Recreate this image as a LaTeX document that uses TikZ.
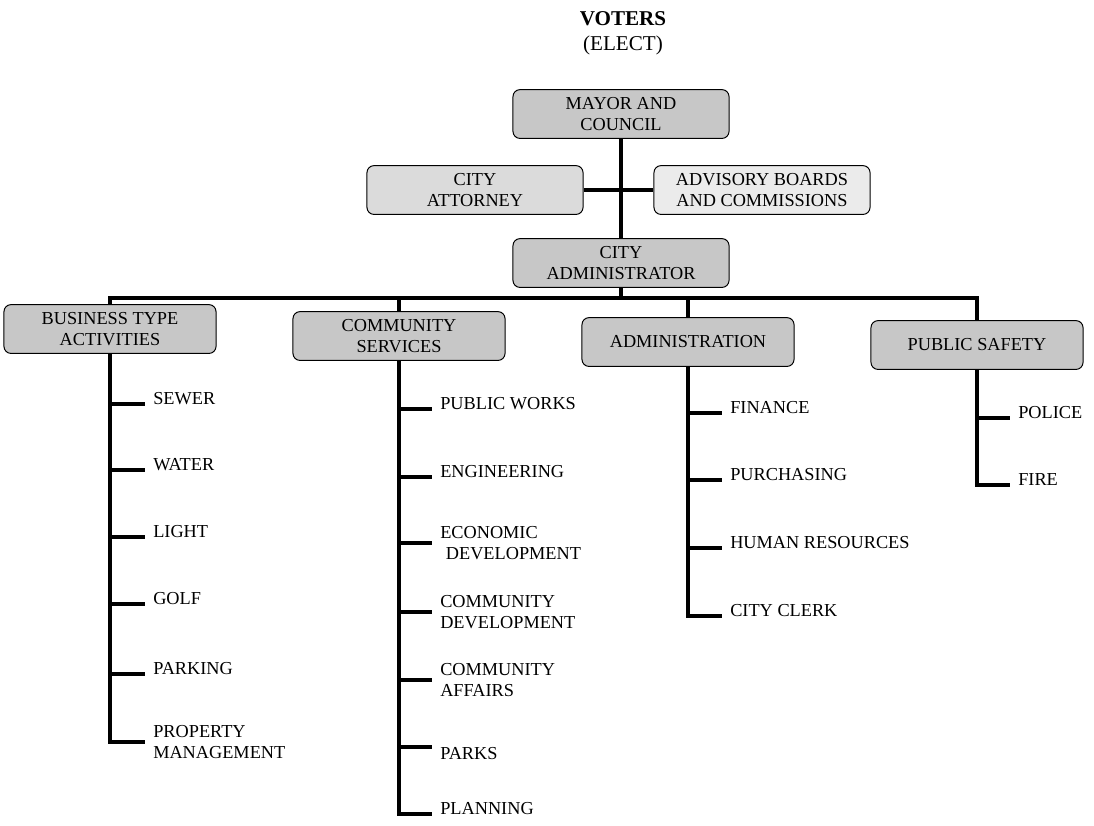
\documentclass[tikz,border=0pt]{standalone}
\usepackage{fontspec}
\setmainfont{Liberation Serif}

\begin{document}
\begin{tikzpicture}[
  x=0.025cm, y=-0.025cm,
  unit/.style={draw, line width=0.7pt, rounded corners=5pt, fill=black!22,
               minimum width=5.4cm, minimum height=1.22cm, inner sep=2pt,
               align=center, font=\fontsize{13}{14.5}\selectfont},
  dept/.style={unit, minimum width=5.3cm},
  leaf/.style={anchor=base west, inner xsep=0.2cm, inner ysep=0pt,
               font=\fontsize{13}{14.5}\selectfont},
  leaftwo/.style={leaf, anchor=west, align=left},
  leafbelow/.style={leaf, anchor=north west},
  trunk/.style={line width=2.8pt},
]
  \useasboundingbox (0,0) rectangle (1094,825);

  \node[font=\fontsize{15}{17.7}\selectfont, align=center] (voters) at (623,33)
    {\textbf{VOTERS}\\(ELECT)};

  % top of the chart
  \node[unit]                (mayor)    at (621,114) {MAYOR AND\\COUNCIL};
  \node[unit, fill=black!14] (attorney) at (475,190) {CITY\\ATTORNEY};
  \node[unit, fill=black!8]  (advisory) at (762,190) {ADVISORY BOARDS\\AND COMMISSIONS};
  \node[unit]                (cityadm)  at (621,263) {CITY\\ADMINISTRATOR};
  \coordinate (bar) at (621,298);

  \draw[trunk] (mayor) -- (cityadm);
  \draw[trunk] (attorney.east) -- (advisory.west);
  \draw[trunk] (cityadm.south) -- (bar);

  % departments
  \node[dept] (business)       at (110,329) {BUSINESS TYPE\\ACTIVITIES};
  \node[dept] (community)      at (399,336) {COMMUNITY\\SERVICES};
  \node[dept] (administration) at (688,342) {ADMINISTRATION};
  \node[dept] (safety)         at (977,345) {PUBLIC SAFETY};

  \draw[trunk] (business.north) |- (bar) -| (safety.north);
  \draw[trunk] (community.north) -- (community.north |- bar);
  \draw[trunk] (administration.north) -- (administration.north |- bar);

  % business type activities
  \node[leaf]    (sewer)    at (145,404) {SEWER};
  \node[leaf]    (water)    at (145,470) {WATER};
  \node[leaf]    (light)    at (145,537) {LIGHT};
  \node[leaf]    (golf)     at (145,604) {GOLF};
  \node[leaf]    (parking)  at (145,674) {PARKING};
  \node[leaftwo] (property) at (145,742) {PROPERTY\\MANAGEMENT};
  \draw[trunk] (business.south) |- (property.west);
  \draw[trunk] (business.south |- sewer.base west)   -- (sewer.base west);
  \draw[trunk] (business.south |- water.base west)   -- (water.base west);
  \draw[trunk] (business.south |- light.base west)   -- (light.base west);
  \draw[trunk] (business.south |- golf.base west)    -- (golf.base west);
  \draw[trunk] (business.south |- parking.base west) -- (parking.base west);

  % community services
  \node[leaf]      (pubworks)    at (432,409) {PUBLIC WORKS};
  \node[leaf]      (engineering) at (432,477) {ENGINEERING};
  \node[leaftwo]   (econdev)     at (432,543) {ECONOMIC\\\hspace*{4pt}DEVELOPMENT};
  \node[leaftwo]   (commdev)     at (432,612) {COMMUNITY\\DEVELOPMENT};
  \node[leaftwo]   (affairs)     at (432,680) {COMMUNITY\\AFFAIRS};
  \node[leafbelow] (parks)       at (432,747) {PARKS};
  \node[leaf]      (planning)    at (432,814) {PLANNING};
  \draw[trunk] (community.south) |- (planning.base west);
  \draw[trunk] (community.south |- pubworks.base west)    -- (pubworks.base west);
  \draw[trunk] (community.south |- engineering.base west) -- (engineering.base west);
  \draw[trunk] (community.south |- econdev.west)          -- (econdev.west);
  \draw[trunk] (community.south |- commdev.west)          -- (commdev.west);
  \draw[trunk] (community.south |- affairs.west)          -- (affairs.west);
  \draw[trunk] (community.south |- parks.north west)      -- (parks.north west);

  % administration
  \node[leaf] (finance)    at (722,413) {FINANCE};
  \node[leaf] (purchasing) at (722,480) {PURCHASING};
  \node[leaf] (hr)         at (722,548) {HUMAN RESOURCES};
  \node[leaf] (clerk)      at (722,616) {CITY CLERK};
  \draw[trunk] (administration.south) |- (clerk.base west);
  \draw[trunk] (administration.south |- finance.base west)    -- (finance.base west);
  \draw[trunk] (administration.south |- purchasing.base west) -- (purchasing.base west);
  \draw[trunk] (administration.south |- hr.base west)         -- (hr.base west);

  % public safety
  \node[leaf] (police) at (1010,418) {POLICE};
  \node[leaf] (fire)   at (1010,485) {FIRE};
  \draw[trunk] (safety.south) |- (fire.base west);
  \draw[trunk] (safety.south |- police.base west) -- (police.base west);
\end{tikzpicture}
\end{document}
